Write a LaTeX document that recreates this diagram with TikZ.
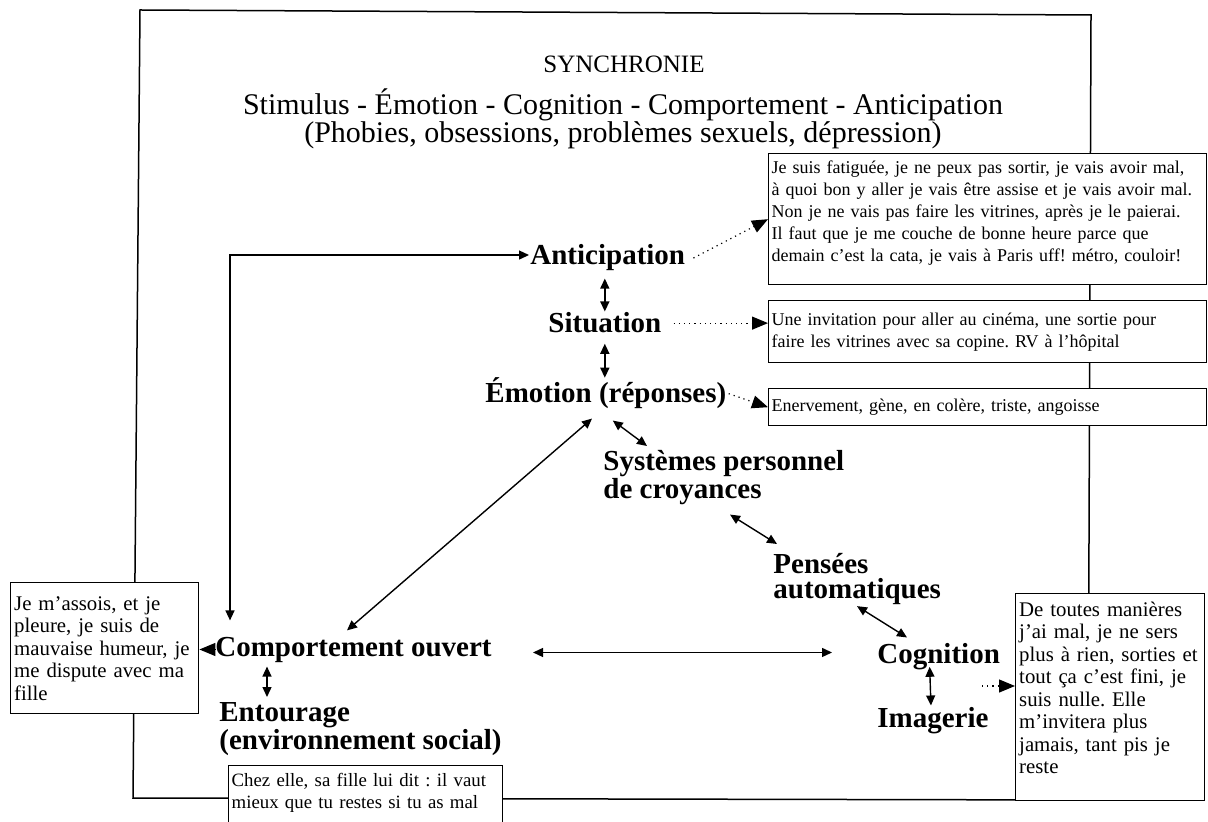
\documentclass[tikz,border=0pt]{standalone}
\usepackage{fontspec}
\setmainfont{Liberation Serif}
\usetikzlibrary{positioning,arrows.meta,calc}

\begin{document}
\frenchspacing
\begin{tikzpicture}[
  x=0.5pt, y=-0.5pt,
  >={Triangle[length=5pt,width=4.5pt]},
  frameline/.style={line width=0.75pt},
  head/.style={inner sep=0pt,align=center},
  lbl/.style={inner sep=0pt,align=left,font=\fontsize{14.5}{12.5}\selectfont\bfseries},
  txtbox/.style={draw,line width=0.7pt,fill=white,anchor=north west,align=left,
                 inner xsep=1.5pt,inner ysep=1pt,font=\fontsize{9}{11}\selectfont},
  bigbox/.style={txtbox,inner xsep=1.75pt,font=\fontsize{10.4}{11.25}\selectfont},
  dbl/.style={<->,line width=0.7pt},
  dotarr/.style={-{Triangle[length=8pt,width=6.5pt]},dotted,line width=0.6pt}]

\useasboundingbox (0,0) rectangle (1208,822);

% --- outer frame (slightly skewed, as scanned) ---
\draw[frameline] (140,10) -- (1091,15) -- (1088,800) -- (133,798) -- cycle;

% --- heading ---
\node[head,font=\fontsize{12.5}{14}\selectfont] (title) at (624,64) {SYNCHRONIE};
\node[head,font=\fontsize{15}{14}\selectfont] (sub) at (623,119)
  {Stimulus - Émotion - Cognition - Comportement - Anticipation\\
   (Phobies, obsessions, problèmes sexuels, dépression)};

% --- text boxes (patient's words) ---
\node[txtbox,text width=216pt,minimum height=65.5pt] (ansbox) at (768,153)
  {Je suis fatiguée, je ne peux pas sortir, je vais avoir mal,\\
   à quoi bon y aller je vais être assise et je vais avoir mal.\\
   Non je ne vais pas faire les vitrines, après je le paierai.\\
   Il faut que je me couche de bonne heure parce que\\
   demain c’est la cata, je vais à Paris uff! métro, couloir!\\[-3pt] \mbox{}};
\node[txtbox,text width=216pt,minimum height=31pt] (sitbox) at (768,300)
  {Une invitation pour aller au cinéma, une sortie pour\\
   faire les vitrines avec sa copine. RV à l’hôpital};
\node[txtbox,text width=216pt,minimum height=18.5pt] (emobox) at (768,388)
  {Enervement, gène, en colère, triste, angoisse};
\node[bigbox,text width=90.5pt,minimum height=65.5pt] (actbox) at (10,582)
  {Je m’assois, et je\\ pleure, je suis de\\ mauvaise humeur, je\\
   me dispute avec ma\\ fille};
\node[bigbox,text width=91pt,minimum height=103.5pt] (cogbox) at (1015,593)
  {De toutes manières\\ j’ai mal, je ne sers\\ plus à rien, sorties et\\
   tout ça c’est fini, je\\ suis nulle. Elle\\ m’invitera plus\\
   jamais, tant pis je\\ reste\\[-2pt] \mbox{}};
\node[txtbox,text width=134pt,minimum height=36pt,font=\fontsize{9.4}{11}\selectfont] (entbox) at (228,765)
  {Chez elle, sa fille lui dit : il vaut\\ mieux que tu restes si tu as mal\\ \mbox{}};

% --- model nodes ---
\node[lbl,anchor=base west] (antic) at (530,265) {Anticipation};
\node[lbl,anchor=base west] (situ)  at (548,333) {Situation};
\node[lbl,anchor=base west] (emo)   at (485,403) {Émotion (réponses)};
\node[lbl,anchor=north west] (sys)  at (603,450) {Systèmes personnel\\de croyances};
\node[lbl,anchor=north west] (pens) at (773,553) {Pensées\\automatiques};
\node[lbl,anchor=base west] (cog)   at (877,663) {Cognition};
\node[lbl,anchor=base west] (imag)  at (877,727) {Imagerie};
\node[lbl,anchor=base west] (comp)  at (215,656) {Comportement ouvert};
\node[lbl,anchor=north west] (ent)  at (219,702) {Entourage\\(environnement social)};

% --- double arrows between the model nodes ---
\draw[dbl] ($(situ.north |- antic.south)+(0,7)$) -- ($(situ.north)+(0,-1)$);
\draw[dbl] ($(situ.south)+(0,10)$) -- ($(situ.south |- emo.north)+(0,0)$);
\draw[dbl] ($(emo.south)+(7,11)$) -- ($(sys.north west)+(44,-4)$);
\draw[dbl] ($(sys.south west)+(127,9)$) -- ($(pens.north west)+(4,-9)$);
\draw[dbl] ($(pens.south west)+(84,1)$) -- ($(cog.north west)+(30,-5)$);
\draw[dbl] ($(cog.south)+(-9,-3)$) -- ($(imag.north)+(-2,-1)$);
\draw[dbl] ($(comp.north west)+(132,-6)$) -- ($(emo.south west)+(107,9)$);
\draw[dbl] ($(comp.east)+(41,3)$) -- ($(comp.east -| cog.west)+(-45,3)$);
\draw[dbl] ($(comp.south west)+(52,4)$) -- ($(ent.north west)+(48,-5)$);
% loop back from behaviour to anticipation
\draw[dbl] ($(antic.west)+(-1,-3)$) -| ($(comp.north west)+(15,-16)$);

% --- dotted pointers to the patient's words ---
\coordinate (cogout) at (982,686);
\draw[dotarr] ($(antic.east)+(8,0)$) -- (ansbox.west);
\draw[dotarr] ($(situ.east)+(12,0)$) -- (situ.east -| sitbox.west);
\draw[dotarr] ($(emo.east)+(2,0)$) -- (emobox.west);
\draw[dotarr] (comp.west) -- (comp.west -| actbox.east);
\draw[dotarr] (cogout) -- (cogout -| cogbox.west);

\end{tikzpicture}
\end{document}
